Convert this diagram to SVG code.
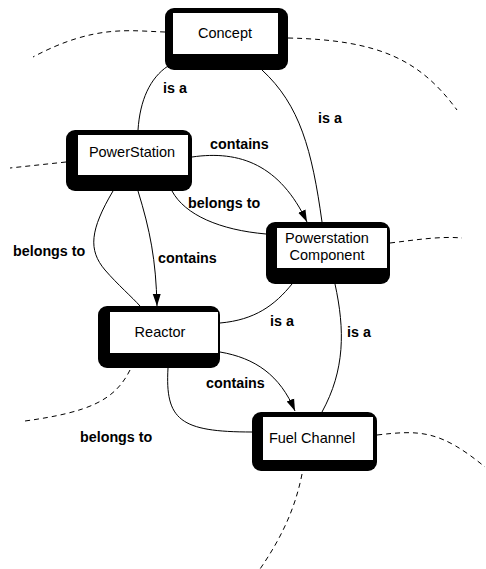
<svg xmlns="http://www.w3.org/2000/svg" width="486" height="569" viewBox="0 0 486 569">
<defs>
<marker id="arr" viewBox="0 0 12 10" refX="12" refY="5" markerWidth="12" markerHeight="10" markerUnits="userSpaceOnUse" orient="auto">
<path d="M0,1 L12,5 L0,9 Z" fill="#000"/>
</marker>
<style>
.outer{fill:#000;}
.inner{fill:#fff;}
.nl{font-family:"Liberation Sans",Arial,sans-serif;font-size:14.5px;fill:#000;text-anchor:middle;}
.el{font-family:"Liberation Sans",Arial,sans-serif;font-size:14.3px;font-weight:bold;fill:#000;}
.e{fill:none;stroke:#000;stroke-width:1;}
.d{fill:none;stroke:#000;stroke-width:1;stroke-dasharray:5 4;}
</style>
</defs>
<rect width="486" height="569" fill="#fff"/>
<g id="dashed">
<path class="d" d="M165,32 C130,31 95,24 33,57"/>
<path class="d" d="M288,38 C380,40 420,60 457,110"/>
<path class="d" d="M66,162 L10,168"/>
<path class="d" d="M390,243 C415,240 440,236 462,238"/>
<path class="d" d="M130,370 C115,400 90,412 25,421"/>
<path class="d" d="M377,435 C420,430 440,430 485,467"/>
<path class="d" d="M302,474 C295,510 280,540 260,569"/>
</g>
<g id="connectors">
<path class="e" d="M168,66 C150,78 140,100 138,130"/>
<path class="e" d="M262,70 C300,105 312,150 322,222"/>
<path class="e" d="M192,157 C240,150 280,165 307,222" marker-end="url(#arr)"/>
<path class="e" d="M172,191 C185,215 220,230 266,234"/>
<path class="e" d="M113,191 C90,230 88,250 105,270 C118,285 132,297 140,306"/>
<path class="e" d="M138,191 C150,230 156,260 157,306" marker-end="url(#arr)"/>
<path class="e" d="M220,323 C255,320 275,305 292,284"/>
<path class="e" d="M335,284 C345,330 345,370 322,412"/>
<path class="e" d="M220,352 C255,358 280,375 295,411" marker-end="url(#arr)"/>
<path class="e" d="M168,368 C165,420 180,432 252,432"/>
<text class="el" x="163" y="93">is a</text>
<text class="el" x="318" y="123">is a</text>
<text class="el" x="210" y="149">contains</text>
<text class="el" x="188" y="208">belongs to</text>
<text class="el" x="13" y="256">belongs to</text>
<text class="el" x="158" y="263">contains</text>
<text class="el" x="270" y="326">is a</text>
<text class="el" x="347" y="337">is a</text>
<text class="el" x="206" y="388">contains</text>
<text class="el" x="80" y="442">belongs to</text>
</g>
<g id="concept">
<rect class="outer" x="165" y="8" width="123" height="62" rx="9"/>
<rect class="inner" x="173" y="13" width="105" height="41"/>
<text class="nl" x="225" y="38">Concept</text>
</g>
<g id="powerstation">
<rect class="outer" x="66" y="130" width="126" height="61" rx="9"/>
<rect class="inner" x="78" y="135" width="110" height="40"/>
<text class="nl" x="132" y="157">PowerStation</text>
</g>
<g id="component">
<rect class="outer" x="266" y="222" width="124" height="62" rx="9"/>
<rect class="inner" x="277" y="228" width="110" height="40"/>
<text class="nl" x="327" y="243">Powerstation</text>
<text class="nl" x="327" y="260">Component</text>
</g>
<g id="reactor">
<rect class="outer" x="98" y="306" width="122" height="62" rx="9"/>
<rect class="inner" x="110" y="312" width="108" height="41"/>
<text class="nl" x="160" y="337">Reactor</text>
</g>
<g id="fuelchannel">
<rect class="outer" x="252" y="412" width="125" height="59" rx="9"/>
<rect class="inner" x="263" y="417" width="110" height="43"/>
<text class="nl" x="312" y="443">Fuel Channel</text>
</g>
</svg>
